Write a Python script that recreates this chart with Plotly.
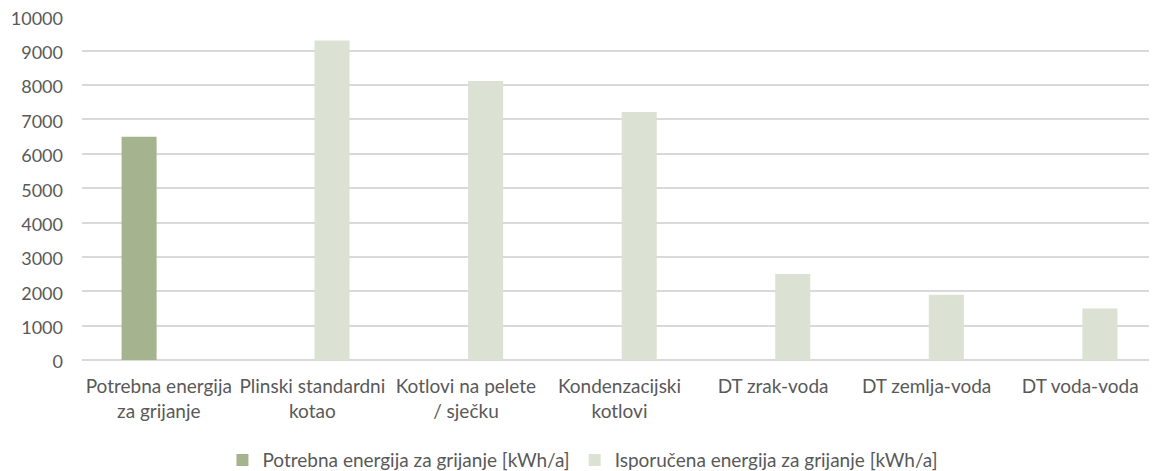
import plotly.graph_objects as go

categories = [
    "Potrebna energija<br>za grijanje",
    "Plinski standardni<br>kotao",
    "Kotlovi na pelete<br>/ sječku",
    "Kondenzacijski<br>kotlovi",
    "DT zrak-voda",
    "DT zemlja-voda",
    "DT voda-voda",
]
potrebna = [6500, None, None, None, None, None, None]
isporucena = [None, 9300, 8120, 7220, 2500, 1900, 1500]
series_names = [
    "Potrebna energija za grijanje [kWh/a]",
    "Isporučena energija za grijanje [kWh/a]",
]
y_ticks = list(range(0, 10001, 1000))
y_tick_labels = [str(v) for v in y_ticks]

FONT = "Lato, 'Liberation Sans', sans-serif"
TXT = "#595959"

fig = go.Figure()
fig.add_trace(go.Bar(x=categories, y=potrebna, name=series_names[0],
                     marker=dict(color="#a5b38f", line=dict(width=0))))
fig.add_trace(go.Bar(x=categories, y=isporucena, name=series_names[1],
                     marker=dict(color="#dbe1d3", line=dict(width=0))))

fig.update_layout(
    width=1149, height=463,
    margin=dict(l=74, r=0, t=8, b=111, autoexpand=False),
    paper_bgcolor="white", plot_bgcolor="white",
    barmode="group", bargap=0.487, bargroupgap=0.11,
    font=dict(family=FONT, size=19, color=TXT),
    showlegend=True,
    legend=dict(orientation="h", x=0.466, xanchor="center", y=-0.236, yanchor="top",
                font=dict(family=FONT, size=19, color=TXT), itemwidth=30,
                traceorder="normal"),
    xaxis=dict(type="category", showgrid=False, showline=False, ticks="",
               tickfont=dict(family=FONT, size=19, color=TXT), tickangle=0,
               ticklabelstandoff=13, automargin=False),
    yaxis=dict(range=[0, 10012], tickvals=y_ticks, ticktext=y_tick_labels,
               showgrid=True, ticklabeloverflow="allow", ticklabelshift=2,
               gridcolor="#d9d9d9", gridwidth=1.5, zeroline=True,
               zerolinecolor="#d9d9d9", zerolinewidth=1.5, showline=False,
               ticks="", tickfont=dict(family=FONT, size=18, color=TXT),
               ticklabelstandoff=18, automargin=False),
)

fig.write_html("out.html")
